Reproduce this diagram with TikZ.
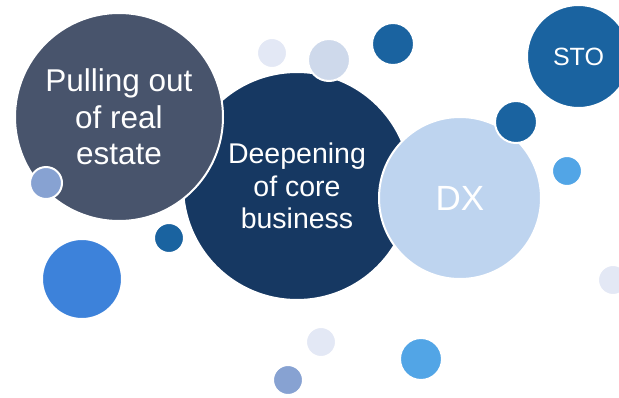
\documentclass[tikz,border=0pt]{standalone}
\usepackage{fontspec}
\setmainfont{Liberation Sans}
\definecolor{slate}{HTML}{48546C}
\definecolor{navy}{HTML}{163862}
\definecolor{paleblue}{HTML}{BED4EF}
\definecolor{steel}{HTML}{1A63A0}
\definecolor{sky}{HTML}{52A5E6}
\definecolor{azure}{HTML}{3D82DA}
\definecolor{mist}{HTML}{E3E8F5}
\definecolor{frost}{HTML}{CED9EB}
\definecolor{lavender}{HTML}{87A2D2}
\tikzset{
  bubble/.style={circle, draw=white, line width=2pt, inner sep=0pt,
    text=white, align=center, minimum size=#1},
}
\begin{document}
\begin{tikzpicture}[x=1pt,y=-1pt]
\useasboundingbox (0,0) rectangle (619,397);
\clip (0,0) rectangle (619,397);
% large bubbles with their captions
\node[bubble=228pt, fill=navy, font=\fontsize{28.5}{32.5}\selectfont]
  (core) at (297,186) {Deepening\\of core\\business};
\node[bubble=208pt, fill=slate, font=\fontsize{31.5}{36.5}\selectfont]
  (estate) at (119,117) {Pulling out\\of real\\estate};
\node[bubble=162pt, fill=paleblue, font=\fontsize{35}{40}\selectfont]
  (dx) at (460,198) {DX};
\node[bubble=103pt, fill=steel, font=\fontsize{25}{29}\selectfont]
  (sto) at (578.5,56.5) {STO};
% small decorative bubbles
\node[bubble=32pt, fill=lavender] (b1) at (46,183) {};
\node[bubble=30pt, fill=steel] (b2) at (169,238) {};
\node[bubble=80pt, fill=azure] (b3) at (82,279) {};
\node[bubble=30pt, fill=mist] (b4) at (272,53) {};
\node[bubble=42pt, fill=frost] (b5) at (329,60) {};
\node[bubble=42pt, fill=steel] (b6) at (393,44) {};
\node[bubble=42pt, fill=steel] (b7) at (516,122) {};
\node[bubble=30pt, fill=sky] (b8) at (567,171) {};
\node[bubble=30pt, fill=mist] (b9) at (613,280) {};
\node[bubble=30pt, fill=mist] (b10) at (321,342) {};
\node[bubble=42pt, fill=sky] (b11) at (421,359) {};
\node[bubble=30pt, fill=lavender] (b12) at (288,380) {};
\end{tikzpicture}
\end{document}
